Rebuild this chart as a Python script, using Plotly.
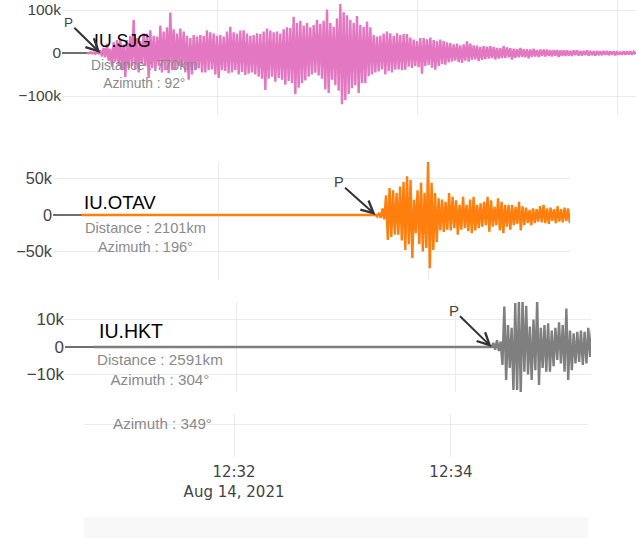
import plotly.graph_objects as go
import pandas as pd

W, H = 636, 538

# ---------------- data ----------------
stations = ["IU.SJG", "IU.OTAV", "IU.HKT"]
distances = ["770km", "2101km", "2591km"]
azimuths = ["92°", "196°", "304°", "349°"]
colors = ["#e377c2", "#ff7f0e", "#7f7f7f"]

record_start = "2021-08-14 12:30:42"
sample_dt_s = 1

# P-wave picks (arrow tips)
p_times = ["2021-08-14 12:30:50", "2021-08-14 12:33:30", "2021-08-14 12:34:20"]

# start of the sampled part of each trace; before it the record is flat at 0
onsets = ["2021-08-14 12:30:42", "2021-08-14 12:33:30", "2021-08-14 12:34:20"]

# amplitudes in thousands of counts
sjg_k = [1, -1, 2, -1, 1, -2, 2, -1, 6, -8, 12, -10,
         22, -18, 10, -32, 25, -20, 30, -28, 34, -40, 20, -56,
         30, -35, 40, -30, 77, -38, 35, -45, 28, -25, 46, -30,
         45, -58, 53, -35, 40, -42, 38, -30, 64, -45, 50, -40,
         60, -47, 94, -40, 55, -38, 45, -30, 57, -32, 50, -45,
         40, -62, 35, -50, 42, -40, 38, -36, 42, -45, 40, -45,
         53, -40, 48, -38, 45, -50, 40, -58, 42, -40, 38, -42,
         50, -47, 61, -45, 48, -40, 45, -50, 52, -44, 53, -51,
         45, -48, 40, -45, 42, -50, 46, -55, 44, -60, 50, -86,
         57, -60, 52, -55, 48, -67, 50, -58, 45, -62, 55, -74,
         60, -65, 58, -70, 84, -96, 70, -81, 75, -70, 64, -64,
         70, -55, 60, -50, 65, -46, 77, -52, 68, -60, 75, -85,
         101, -93, 70, -62, 61, -75, 80, -88, 114, -119, 95, -109,
         88, -95, 77, -82, 70, -75, 86, -93, 65, -70, 61, -70,
         73, -54, 60, -50, 42, -45, 38, -43, 40, -38, 45, -50,
         50, -42, 46, -45, 40, -39, 46, -38, 42, -40, 44, -39,
         44, -32, 36, -35, 31, -30, 28, -33, 35, -48, 35, -30,
         32, -28, 36, -34, 30, -39, 28, -30, 31, -26, 28, -27,
         25, -22, 23, -20, 20, -18, 22, -21, 18, -23, 20, -18,
         27, -20, 22, -16, 18, -15, 17, -19, 14, -16, 16, -14,
         15, -13, 16, -12, 14, -15, 12, -13, 11, -12, 16, -12,
         13, -10, 11, -15, 10, -11, 9, -10, 12, -9, 9, -10,
         9, -12, 8, -9, 10, -8, 7, -9, 8, -7, 8, -8,
         8, -7, 6, -8, 7, -6, 7, -9, 6, -7, 6, -7,
         6, -6, 5, -7, 6, -5, 6, -6, 5, -6, 5, -5,
         6, -6, 5, -5, 4, -6, 5, -5, 4, -5, 5, -4,
         5, -5, 4, -4, 4, -5, 4, -4, 3, -4, 4, -4,
         4, -3, 4, -4, 3, -3]

otav_k = [0, -2, 3, -4, 9, -6,
          27, -34, 37, -30, 34, -27,
          30, -27, 39, -35, 45, -48,
          53, -40, 48, -59, 21, -25,
          34, -40, 44, -50, 30, -45,
          73, -73, 44, -48, 30, -37,
          23, -21, 21, -23, 18, -20,
          30, -21, 25, -18, 20, -27,
          14, -20, 25, -18, 14, -22,
          21, -25, 25, -21, 14, -18,
          16, -16, 18, -14, 25, -23,
          20, -16, 11, -14, 23, -21,
          18, -25, 14, -16, 14, -20,
          14, -14, 11, -12, 18, -21,
          12, -14, 10, -11, 7, -14,
          9, -11, 8, -9, 12, -10,
          14, -11, 9, -12, 10, -8,
          8, -11, 12, -9, 8, -10,
          10, -8, 9, -11, 8, -9]

hkt_k = [0, 1.5, -1, 2.5, -1.5, 2,
         -6.5, 14.7, -12, 8, -7.6, 7,
         -15.6, 16, -15.6, 17, -17, 17,
         -9, 15, -10, 7.4, -12, 10,
         -8.4, 17, -13.8, 7, -7.6, 8,
         -9, 8.6, -9, 6, -7, 7,
         -4.7, 9, -6, 8, -9, 14,
         -12, 6, -8.4, 5, -6, 5.5,
         -5.4, 6, -6.5, 5.5, -6, 7,
         -3.6, 6, -5, 5]

waves_k = [sjg_k, otav_k, hkt_k]

# ---------------- layout geometry (window pixels) ----------------
def px(x):
    return min(1.0, max(0.0, x / W))

def py(y):
    return min(1.0, max(0.0, 1 - y / H))

xdom = [(62, 636), (53, 570), (65, 591), (84, 588)]
ydom = [(0, 115), (162, 280), (302, 392), (414, 457)]
xranges = [("2021-08-14 12:30:27", "2021-08-14 12:36:11.4"),
           ("2021-08-14 12:30:25.7", "2021-08-14 12:35:21.1"),
           ("2021-08-14 12:30:26.3", "2021-08-14 12:35:14.5"),
           ("2021-08-14 12:30:37", "2021-08-14 12:35:15.8")]
yranges = [(-144200, 123300), (-89000, 72600), (-16360, 16360), (-33, 10)]
ydticks = [100000, 50000, 10000, None]
tick_size = [15.5, 16.3, 17, 17]

fig = go.Figure()

for i in range(3):
    onset = pd.Timestamp(onsets[i])
    t = [onset + pd.Timedelta(seconds=sample_dt_s * k) for k in range(len(waves_k[i]))]
    y = [v * 1000 for v in waves_k[i]]
    if pd.Timestamp(record_start) < onset:
        t = [pd.Timestamp(record_start)] + t
        y = [0] + y
    sfx = "" if i == 0 else str(i + 1)
    fig.add_trace(go.Scatter(x=t, y=y, mode="lines",
                             line=dict(color=colors[i], width=2.4),
                             xaxis="x" + sfx, yaxis="y" + sfx,
                             hoverinfo="skip", showlegend=False))

# fourth station: its trace lies outside the visible window
fig.add_trace(go.Scatter(x=[], y=[], mode="lines", xaxis="x4", yaxis="y4",
                         line=dict(color="#bcbd22", width=2.4), showlegend=False))

layout = dict(width=W, height=H, margin=dict(l=0, r=0, t=0, b=0, autoexpand=False),
              paper_bgcolor="white", plot_bgcolor="white",
              showlegend=False, font=dict(family="Liberation Sans", color="#444"))

for i in range(4):
    sfx = "" if i == 0 else str(i + 1)
    xa = dict(domain=[px(xdom[i][0]), px(xdom[i][1])],
              range=list(xranges[i]), type="date",
              anchor="y" + sfx, showgrid=True, gridcolor="#ebebeb", gridwidth=1,
              dtick=120000, tick0="2021-08-14 12:00:00",
              showline=False, zeroline=False, ticks="",
              showticklabels=(i == 3), ticklabelstandoff=4,
              tickfont=dict(family="DejaVu Sans", size=15, color="#444"))
    ya = dict(domain=[py(ydom[i][1]), py(ydom[i][0])],
              range=list(yranges[i]), anchor="x" + sfx,
              showgrid=True, gridcolor="#ebebeb", gridwidth=1,
              showline=False, ticks="", ticklabeloverflow="allow",
              tickfont=dict(family="Liberation Sans", size=tick_size[i], color="#444"))
    if ydticks[i] is None:
        ya.update(tickvals=[0], showticklabels=False, zeroline=False)
    else:
        ya.update(dtick=ydticks[i], zeroline=True, zerolinecolor="#6f6f6f", zerolinewidth=2)
    layout["xaxis" + sfx] = xa
    layout["yaxis" + sfx] = ya

fig.update_layout(**layout)

# station labels
name_pos = [(92, 41), (82, 202), (97, 331)]
info_pos = [(144, 74.5), (145.5, 237.5), (160, 369)]
name_size = [17.6, 18.6, 19.5]
info_size = [13.8, 14.6, 15.2]
for i in range(3):
    fig.add_annotation(xref="paper", yref="paper", x=px(name_pos[i][0]), y=py(name_pos[i][1]),
                       text=stations[i], showarrow=False, xanchor="left", yanchor="middle",
                       font=dict(family="Liberation Sans", size=name_size[i], color="black"))
    fig.add_annotation(xref="paper", yref="paper", x=px(info_pos[i][0]), y=py(info_pos[i][1]),
                       text="Distance : " + distances[i] + "<br>Azimuth : " + azimuths[i],
                       showarrow=False, xanchor="center", yanchor="middle", align="center",
                       font=dict(family="Liberation Sans", size=info_size[i], color="#8a8a8a"))

fig.add_annotation(xref="paper", yref="paper", x=px(162.5), y=py(423),
                   text="Azimuth : " + azimuths[3], showarrow=False,
                   xanchor="center", yanchor="middle",
                   font=dict(family="Liberation Sans", size=15.2, color="#8a8a8a"))

# P arrows
p_offsets = [(-32, -31), (-37, -33), (-38, -37)]
p_size = [13.5, 14.5, 15]
for i in range(3):
    sfx = "" if i == 0 else str(i + 1)
    fig.add_annotation(xref="x" + sfx, yref="y" + sfx, x=p_times[i], y=0,
                       text="P", showarrow=True, arrowhead=5, arrowsize=1.2, arrowwidth=2,
                       arrowcolor="#333", ax=p_offsets[i][0], ay=p_offsets[i][1],
                       font=dict(family="Liberation Sans", size=p_size[i], color="#444"))

# faint range-slider band at the bottom
fig.add_shape(type="rect", xref="paper", yref="paper",
              x0=px(84), x1=px(588), y0=0, y1=21 / H,
              fillcolor="#f8f8f8", line=dict(width=0), layer="below")

# page without the default 8px body margin, so the figure fills the window
fig.write_html("out.html", config={"displayModeBar": False},
               post_script="document.body.style.margin='0px';")
